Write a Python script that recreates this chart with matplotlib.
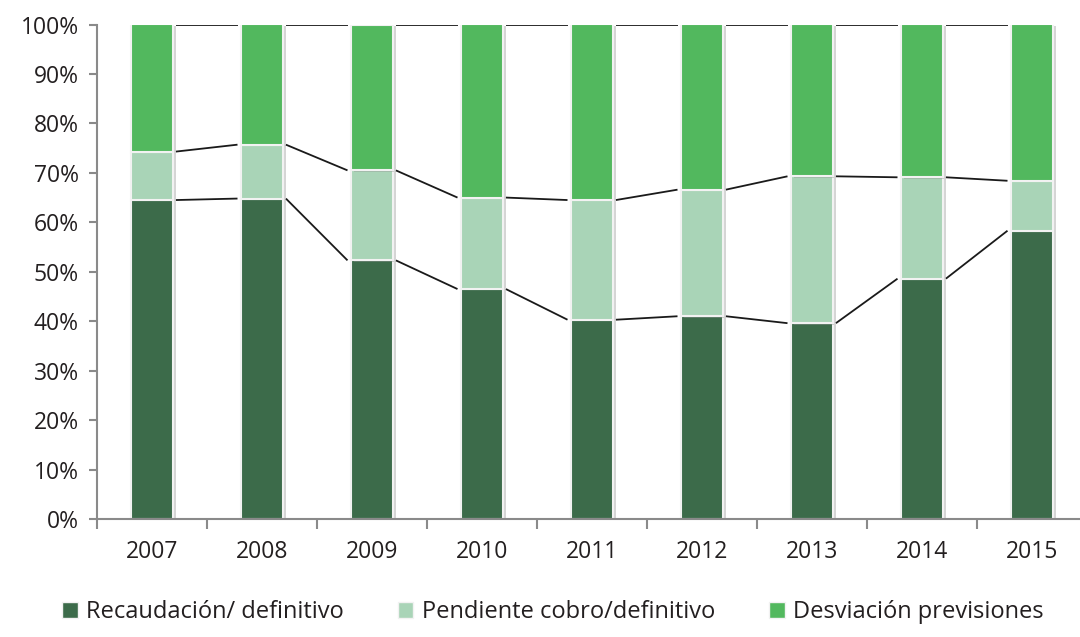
import numpy as np
import matplotlib
matplotlib.use("Agg")
import matplotlib.pyplot as plt
import matplotlib.patheffects as pe
from matplotlib.ticker import MultipleLocator, FuncFormatter, FixedLocator
from matplotlib.patches import Patch

# Datos (en % del definitivo)
years = ["2007", "2008", "2009", "2010", "2011", "2012", "2013", "2014", "2015"]
recaudacion = [64.5, 64.8, 52.3, 46.5, 40.3, 41.0, 39.6, 48.6, 58.3]
pendiente_acum = [74.3, 75.7, 70.5, 65.0, 64.5, 66.6, 69.3, 69.1, 68.4]  # tope de la 2a serie
pendiente = [p - r for p, r in zip(pendiente_acum, recaudacion)]
desviacion = [100 - p for p in pendiente_acum]

labels = ["Recaudación/ definitivo", "Pendiente cobro/definitivo", "Desviación previsiones"]
colors = ["#3c6b4a", "#a9d4b7", "#52b85e"]

plt.rcParams["font.family"] = ["Open Sans", "DejaVu Sans"]

W, H = 1080, 637
fig = plt.figure(figsize=(W / 100, H / 100), dpi=100)
# ejes colocados a mano (el gráfico original está recortado por la derecha)
ax = fig.add_axes([96.7 / W, (H - 519) / H, 990 / W, 494.5 / H])

x = np.arange(len(years))
bw = 0.38
shadow = [pe.SimplePatchShadow(offset=(2.5, -1), shadow_rgbFace="#888888", alpha=0.35), pe.Normal()]

bottom = np.zeros(len(years))
series = [recaudacion, pendiente, desviacion]
for vals, col, lab in zip(series, colors, labels):
    bars = ax.bar(x, vals, bw, bottom=bottom, color=col, edgecolor="#f2f2f2",
                  linewidth=1.5, label=lab, zorder=2)
    for b in bars:
        b.set_path_effects(shadow)
    bottom = bottom + np.array(vals)

# líneas de serie entre barras
tops = [np.array(recaudacion), np.array(pendiente_acum), bottom]
for t in tops:
    for i in range(len(years) - 1):
        ax.plot([x[i] + bw / 2 + 0.03, x[i + 1] - bw / 2 - 0.03], [t[i], t[i + 1]],
                color="#1a1a1a", lw=1.3, zorder=1, solid_capstyle="butt")

ax.set_xlim(-0.5, len(years) - 0.5)
ax.set_ylim(0, 100)
ax.yaxis.set_major_locator(MultipleLocator(10))
ax.yaxis.set_major_formatter(FuncFormatter(lambda v, p: f"{v:.0f}%"))
ax.set_xticks(x)
ax.set_xticklabels(years)
ax.xaxis.set_minor_locator(FixedLocator(np.arange(-0.5, len(years), 1.0)))

for s in ["top", "right"]:
    ax.spines[s].set_visible(False)
for s in ["left", "bottom"]:
    ax.spines[s].set_color("#8a8a8a")
    ax.spines[s].set_linewidth(1.5)

ax.tick_params(axis="y", length=6, width=1.5, color="#8a8a8a", labelsize=16.5,
               labelcolor="#231f20", pad=7)
ax.tick_params(axis="x", which="major", length=0, labelsize=16.5, labelcolor="#231f20", pad=15)
ax.tick_params(axis="x", which="minor", length=7, width=1.5, color="#8a8a8a")

handles = [Patch(facecolor=c, edgecolor="#f2f2f2", linewidth=1) for c in colors]
fig.legend(handles, labels, loc="center", bbox_to_anchor=(553 / W, (H - 612) / H),
           ncol=3, frameon=False, fontsize=17, handlelength=0.65, handleheight=0.65,
           handletextpad=0.35, columnspacing=2.3, labelcolor="#231f20")

fig.savefig("out.png", dpi=100)
